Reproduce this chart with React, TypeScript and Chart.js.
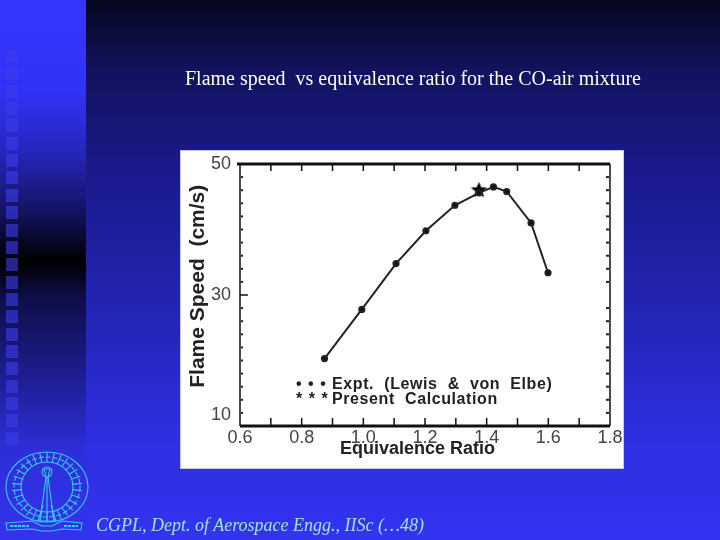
import { useEffect, useRef } from "react";
import { Chart, registerables } from "chart.js";

Chart.register(...registerables);

const exptRatio = [0.874, 0.995, 1.106, 1.203, 1.297, 1.375, 1.422, 1.465, 1.544, 1.599];
const exptSpeed = [20.3, 27.8, 34.8, 39.8, 43.7, 45.6, 46.5, 45.8, 41.0, 33.4];
const calcRatio = [1.375];
const calcSpeed = [46.0];
const xLabelled = [0.6, 0.8, 1.0, 1.2, 1.4, 1.6, 1.8];
const yLabelled = [10, 30, 50];
const xMinor = [0.7, 0.8, 0.9, 1.0, 1.1, 1.2, 1.3, 1.4, 1.5, 1.6, 1.7];
const yMinor = [12, 14, 16, 18, 20, 22, 24, 26, 28, 32, 34, 36, 38, 40, 42, 44, 46, 48];

const titleText = "Flame speed\u00a0 vs equivalence ratio for the CO-air mixture";
const footerText = "CGPL, Dept. of Aerospace Engg., IISc (\u202648)";
const squareRows = Array.from({ length: 23 }, (_, i) => i);

// frame and the hand-drawn looking ticks of the scanned plot
const framePlugin = {
    id: "frame",
    afterDatasetsDraw(chart: any) {
        const { ctx, chartArea: a, scales } = chart;
        ctx.save();
        ctx.strokeStyle = "#111";
        ctx.lineWidth = 3;
        ctx.beginPath();
        ctx.moveTo(a.left - 3, a.top);
        ctx.lineTo(a.right, a.top);
        ctx.moveTo(a.left, a.bottom);
        ctx.lineTo(a.right, a.bottom);
        ctx.stroke();
        ctx.lineWidth = 1.5;
        ctx.beginPath();
        ctx.moveTo(a.left, a.top);
        ctx.lineTo(a.left, a.bottom);
        ctx.moveTo(a.right, a.top);
        ctx.lineTo(a.right, a.bottom);
        xMinor.forEach((v) => {
            const x = scales.x.getPixelForValue(v);
            ctx.moveTo(x, a.top);
            ctx.lineTo(x, a.top + 7);
            ctx.moveTo(x, a.bottom);
            ctx.lineTo(x, a.bottom - 8);
        });
        const y30 = scales.y.getPixelForValue(30);
        ctx.moveTo(a.left, y30);
        ctx.lineTo(a.left + 8, y30);
        ctx.stroke();
        ctx.fillStyle = "#222";
        yMinor.forEach((v) => {
            const y = scales.y.getPixelForValue(v);
            ctx.fillRect(a.left + 1, y - 1, 2, 2);
            ctx.fillRect(a.right - 4, y - 1, 3, 2);
        });
        ctx.restore();
    },
};

// Chart.js 'star' is only an asterisk, the scan has a solid star
function makeStar(size: number) {
    const c = document.createElement("canvas");
    c.width = size;
    c.height = size;
    const g = c.getContext("2d");
    if (!g) return "star";
    g.fillStyle = "#000";
    g.beginPath();
    for (let i = 0; i < 10; i++) {
        const r = i % 2 === 0 ? size / 2 : size / 4.6;
        const a = -Math.PI / 2 + (i * Math.PI) / 5;
        g.lineTo(size / 2 + r * Math.cos(a), size / 2 + r * Math.sin(a));
    }
    g.closePath();
    g.fill();
    return c;
}

const box = (left: number, top: number, width: number, height: number) => ({
    position: "absolute" as const,
    left,
    top,
    width,
    height,
});

function Logo() {
    const spokes = Array.from({ length: 30 }, (_, i) => (i * 360) / 30);
    return (
        <svg style={box(0, 445, 100, 90)} viewBox="0 0 100 90" fill="none" stroke="#35c8ee" strokeWidth="1.1">
            <ellipse cx="47" cy="42" rx="41" ry="35" />
            <ellipse cx="47" cy="42" rx="26" ry="25" />
            <ellipse cx="47" cy="42" rx="33" ry="30" strokeDasharray="5 2" />
            {spokes.map((a) => (
                <line key={a} x1="47" y1="7" x2="47" y2="17" transform={`rotate(${a} 47 42)`} />
            ))}
            <path d="M44 24 L46 32 L40 76 L54 76 L48 32 L50 24 Z" />
            <circle cx="47" cy="27" r="5" />
            <path d="M47 32 V76 M43 60 L38 76 M51 60 L56 76" />
            <path d="M6 78 L32 76 L42 81 L52 81 L62 76 L82 78 L81 85 L62 84 L52 86 L42 86 L32 84 L7 85 Z" />
            <path d="M10 81 H30 M64 81 H78" strokeDasharray="3 1" strokeWidth="2" />
        </svg>
    );
}

export default function App() {
    const canvasRef = useRef<HTMLCanvasElement>(null);

    useEffect(() => {
        if (!canvasRef.current) return;
        const ctx = canvasRef.current.getContext("2d");
        if (!ctx) return;

        const chartInstance = new Chart(ctx, {
            type: "line",
            data: {
                datasets: [
                    {
                        label: "Expt. (Lewis & von Elbe)",
                        data: exptRatio.map((x, i) => ({ x, y: exptSpeed[i] })),
                        borderColor: "#222",
                        backgroundColor: "#111",
                        borderWidth: 2,
                        pointRadius: 2.6,
                        tension: 0,
                    },
                    {
                        label: "Present Calculation",
                        data: calcRatio.map((x, i) => ({ x, y: calcSpeed[i] })),
                        showLine: false,
                        pointStyle: makeStar(17),
                    },
                ],
            },
            plugins: [framePlugin],
            options: {
                responsive: false,
                animation: false,
                layout: { padding: { left: 186, right: 110, top: 164, bottom: 80 } },
                plugins: { legend: { display: false }, tooltip: { enabled: false } },
                scales: {
                    x: {
                        type: "linear",
                        min: 0.6,
                        max: 1.8,
                        afterBuildTicks: (axis: any) => {
                            axis.ticks = xLabelled.map((value) => ({ value }));
                        },
                        afterFit: (axis: any) => {
                            axis.height = 34;
                        },
                        grid: { display: false },
                        border: { display: false },
                        ticks: {
                            color: "#444",
                            padding: -7,
                            maxRotation: 0,
                            font: { family: "Liberation Sans", size: 18 },
                            callback: (v: any) => Number(v).toFixed(1),
                        },
                        title: {
                            display: true,
                            // trailing spaces push it left of the plot centre, as in the scan
                            text: "Equivalence Ratio\u00a0\u00a0\u00a0",
                            color: "#222",
                            padding: { top: 0, bottom: 0 },
                            font: { family: "Liberation Sans", size: 18, weight: "bold" },
                        },
                    },
                    y: {
                        type: "linear",
                        min: 10,
                        max: 50,
                        afterBuildTicks: (axis: any) => {
                            axis.ticks = yLabelled.map((value) => ({ value }));
                        },
                        afterFit: (axis: any) => {
                            axis.width = 54;
                        },
                        grid: { display: false },
                        border: { display: false },
                        ticks: {
                            color: "#444",
                            padding: 1,
                            font: { family: "Liberation Sans", size: 18 },
                            // the 10 sits above its tick in the scan
                            callback: (v: any) => (v === 10 ? ["10", ""] : String(v)),
                        },
                        title: {
                            display: true,
                            text: "\u00a0\u00a0\u00a0Flame Speed  (cm/s)",
                            color: "#222",
                            padding: 0,
                            font: { family: "Liberation Sans", size: 21, weight: "bold" },
                        },
                    },
                },
            },
        } as any);

        return () => {
            chartInstance.destroy();
        };
    }, []);

    return (
        <div
            style={{
                ...box(0, 0, 720, 540),
                overflow: "hidden",
                background:
                    "linear-gradient(180deg, #06061e 0px, #12125e 70px, #1a1a8c 170px, #2323b0 300px, #2e2ee0 430px, #3333f2 540px)",
            }}
        >
            <div
                style={{
                    ...box(0, 0, 86, 540),
                    background:
                        "linear-gradient(180deg, #3535ff 0px, #3232f5 90px, #2626c0 150px, #15156c 205px, #000 262px, #0d0d45 295px, #1e1e95 380px, #2e2ed8 450px, #3333ee 540px)",
                }}
            />
            {squareRows.map((i) => (
                <div
                    key={i}
                    style={{ ...box(6, 50 + i * 17.35, 12, 13), background: "rgba(60,60,235,0.6)" }}
                />
            ))}
            <Logo />
            <div
                style={{
                    ...box(180, 150, 444, 319),
                    background: "#fff",
                    boxSizing: "border-box",
                    border: "1px solid #c8c8e0",
                }}
            />
            <canvas ref={canvasRef} width={720} height={540} style={box(0, 0, 720, 540)} />
            <div
                style={{
                    ...box(185, 67, 480, 24),
                    color: "#fff",
                    fontFamily: "Liberation Serif",
                    fontSize: 20,
                    whiteSpace: "nowrap",
                }}
            >
                {titleText}
            </div>
            <div
                style={{
                    ...box(96, 515, 360, 22),
                    color: "#9fe3e6",
                    fontFamily: "Liberation Serif",
                    fontStyle: "italic",
                    fontSize: 18,
                    whiteSpace: "nowrap",
                }}
            >
                {footerText}
            </div>
            <div
                style={{
                    ...box(296, 376, 36, 32),
                    color: "#222",
                    fontFamily: "Liberation Sans",
                    fontWeight: "bold",
                    fontSize: 16,
                    lineHeight: "15px",
                    letterSpacing: 6.5,
                    whiteSpace: "pre",
                }}
            >
                {"\u2022\u2022\u2022\n***"}
            </div>
            <div
                style={{
                    ...box(332, 376, 240, 32),
                    color: "#222",
                    fontFamily: "Liberation Sans",
                    fontWeight: "bold",
                    fontSize: 16,
                    lineHeight: "15px",
                    letterSpacing: 0.6,
                    whiteSpace: "pre",
                }}
            >
                {"Expt.  (Lewis  &  von  Elbe)\nPresent  Calculation"}
            </div>
        </div>
    );
}
